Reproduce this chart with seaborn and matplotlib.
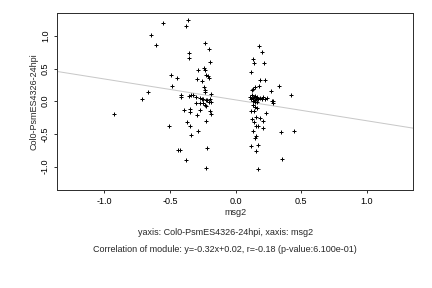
import matplotlib
matplotlib.use("Agg")
import matplotlib.pyplot as plt
import seaborn as sns
import pandas as pd

# --- data ---
x_left = [-0.553, -0.363, -0.378, -0.646, -0.606, -0.233, -0.203, -0.355, -0.355, -0.195,
          -0.241, -0.230, -0.287, -0.494, -0.446, -0.297, -0.256, -0.228, -0.208, -0.200,
          -0.484, -0.241, -0.667, -0.233, -0.188, -0.715, -0.418, -0.418, -0.357, -0.337,
          -0.325, -0.300, -0.274, -0.260, -0.236, -0.249, -0.223, -0.215, -0.198, -0.300,
          -0.270, -0.249, -0.236, -0.223, -0.205, -0.190, -0.925, -0.393, -0.348, -0.348,
          -0.274, -0.297, -0.195, -0.188, -0.223, -0.370, -0.348, -0.507, -0.287, -0.340,
          -0.441, -0.424, -0.218, -0.378, -0.226]
y_left = [1.20, 1.24, 1.15, 1.02, 0.856, 0.887, 0.795, 0.744, 0.657, 0.607,
          0.515, 0.484, 0.484, 0.398, 0.352, 0.336, 0.316, 0.398, 0.387, 0.362,
          0.229, 0.214, 0.138, 0.138, 0.107, 0.040, 0.090, 0.070, 0.076, 0.090,
          0.090, 0.066, 0.050, 0.040, 0.170, 0.030, 0.015, 0.020, 0.040, -0.035,
          -0.035, -0.035, -0.060, -0.072, -0.010, -0.010, -0.200, -0.138, -0.120, -0.163,
          -0.138, -0.214, -0.148, -0.200, -0.306, -0.316, -0.382, -0.382, -0.454, -0.520,
          -0.749, -0.749, -0.714, -0.902, -1.024]
x_right = [0.177, 0.203, 0.134, 0.139, 0.218, 0.119, 0.185, 0.223, 0.329, 0.420,
           0.180, 0.266, 0.150, 0.122, 0.134, 0.287, 0.276, 0.287, 0.110, 0.125,
           0.140, 0.150, 0.160, 0.185, 0.200, 0.210, 0.225, 0.236, 0.134, 0.147,
           0.160, 0.134, 0.147, 0.160, 0.114, 0.139, 0.230, 0.127, 0.157, 0.185,
           0.208, 0.139, 0.154, 0.172, 0.210, 0.132, 0.345, 0.441, 0.154, 0.144,
           0.170, 0.116, 0.154, 0.355, 0.170, 0.120, 0.130, 0.145, 0.155, 0.170]
y_right = [0.846, 0.749, 0.642, 0.581, 0.581, 0.443, 0.321, 0.321, 0.229, 0.092,
           0.229, 0.153, 0.210, 0.164, 0.188, 0.010, 0.005, -0.030, 0.070, 0.090,
           0.060, 0.080, 0.065, 0.050, 0.035, 0.060, 0.040, 0.055, 0.000, -0.015,
           -0.005, -0.065, -0.090, -0.100, -0.153, -0.148, -0.180, -0.275, -0.240, -0.250,
           -0.306, -0.326, -0.382, -0.382, -0.413, -0.459, -0.474, -0.459, -0.540, -0.570,
           -0.673, -0.688, -0.765, -0.887, -1.040, 0.030, 0.045, 0.020, 0.040, 0.030]

slope = -0.32
intercept = 0.02
x_ticks = [-1.0, -0.5, 0.0, 0.5, 1.0]
y_ticks = [-1.0, -0.5, 0.0, 0.5, 1.0]
x_label = "msg2"
y_label = "Col0-PsmES4326-24hpi"
caption1 = "yaxis: Col0-PsmES4326-24hpi, xaxis: msg2"
caption2 = "Correlation of module: y=-0.32x+0.02, r=-0.18 (p-value:6.100e-01)"

df = pd.DataFrame({"x": x_left + x_right, "y": y_left + y_right})

sns.set_style("white")
plt.rcParams["font.family"] = ["Liberation Sans", "DejaVu Sans"]

FS = 9
fig = plt.figure(figsize=(6, 4), dpi=72)
ax = fig.add_axes([0.132, 0.340, 0.824, 0.615])

ax.axline((0, intercept), slope=slope, color="#c8c8c8", lw=1.0, zorder=1)
sns.scatterplot(data=df, x="x", y="y", marker="+", color="black", s=20,
                linewidth=1.0, ax=ax, zorder=2)

ax.set_xlim(-1.36, 1.35)
ax.set_ylim(-1.36, 1.35)
ax.set_xticks(x_ticks)
ax.set_yticks(y_ticks)
ax.set_xticklabels([f"{v:.1f}" for v in x_ticks], fontsize=FS)
ax.set_yticklabels([f"{v:.1f}" for v in y_ticks], fontsize=FS, rotation=90, va="center")
ax.tick_params(axis="both", which="both", direction="out", length=3, width=0.8,
               colors="black", bottom=True, left=True, top=False, right=False, pad=4)
ax.set_xlabel(x_label, fontsize=FS, labelpad=2)
ax.set_ylabel(y_label, fontsize=FS, labelpad=3)
for s in ax.spines.values():
    s.set_visible(True)
    s.set_color("#303030")
    s.set_linewidth(1.0)

fig.text(0.521, 0.191, caption1, ha="center", va="center", fontsize=FS)
fig.text(0.521, 0.132, caption2, ha="center", va="center", fontsize=FS)

fig.savefig("out.png", dpi=72)
